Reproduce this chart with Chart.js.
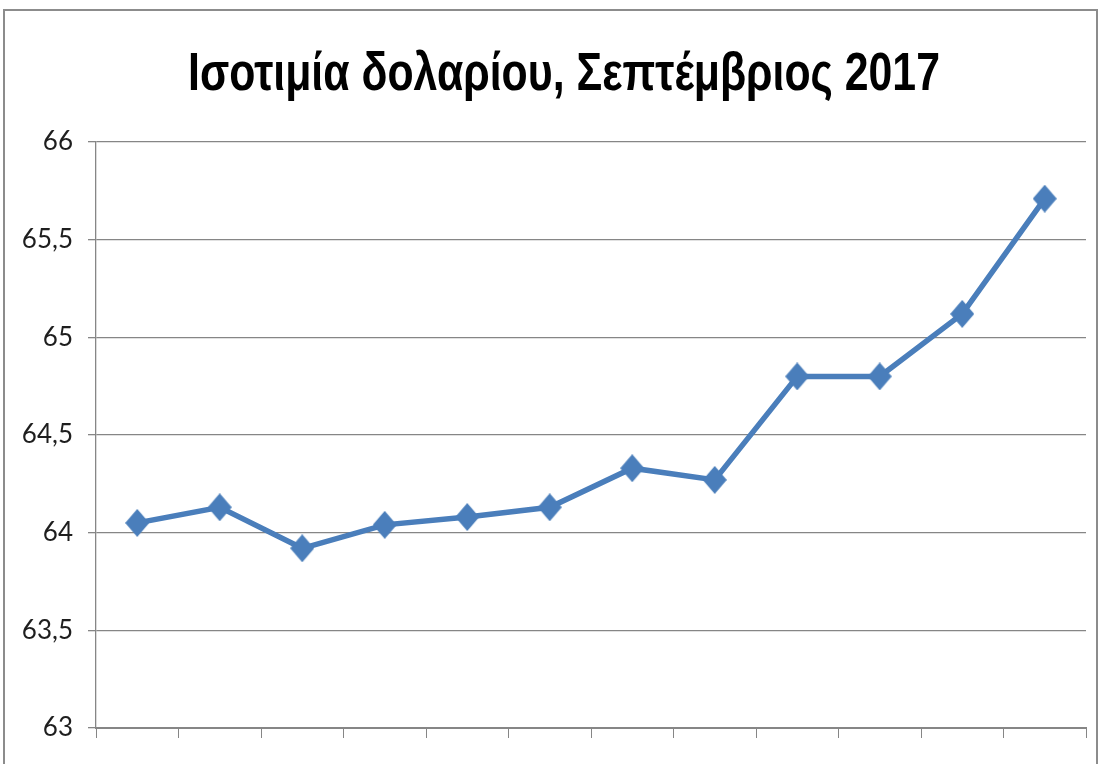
<!DOCTYPE html>
<html>
<head>
<meta charset="utf-8">
<script src="https://cdn.jsdelivr.net/npm/chart.js@4/dist/chart.umd.min.js"></script>
<style>
  html, body { margin: 0; padding: 0; background: #fff; overflow: hidden; }
  #wrap { position: absolute; left: 0; top: 0; width: 1104px; height: 764px; }
  #frame { position: absolute; left: 3px; top: 9px; width: 1095px; height: 800px; border: 2px solid #8c8c8c; box-sizing: border-box; pointer-events: none; }
</style>
</head>
<body>
<div id="wrap"><canvas id="c" width="1104" height="764"></canvas></div>
<div id="frame"></div>
<script>
const titleText = 'Ισοτιμία δολαρίου, Σεπτέμβριος 2017';
const categories = ['1', '2', '3', '4', '5', '6', '7', '8', '9', '10', '11', '12'];
const rateValues = [64.05, 64.13, 63.92, 64.04, 64.08, 64.13, 64.33, 64.27, 64.80, 64.80, 65.12, 65.71];
const yTickValues = [63, 63.5, 64, 64.5, 65, 65.5, 66];

const blue = '#4a7ebb';
const gridColor = '#868686';

// Diamond marker (slightly taller than wide, as in the reference)
function makeDiamond(w, h, color) {
  const cv = document.createElement('canvas');
  cv.width = w; cv.height = h;
  const g = cv.getContext('2d');
  g.fillStyle = color;
  g.beginPath();
  g.moveTo(w / 2, 0);
  g.lineTo(w, h / 2);
  g.lineTo(w / 2, h);
  g.lineTo(0, h / 2);
  g.closePath();
  g.fill();
  return cv;
}
const diamond = makeDiamond(24, 28, blue);

// Condensed title (reference uses a narrow face such as Calibri)
const condensedTitle = {
  id: 'condensedTitle',
  afterDraw(chart) {
    const ctx = chart.ctx;
    ctx.save();
    ctx.font = "bold 53px 'Liberation Sans', Arial, sans-serif";
    ctx.fillStyle = '#000';
    ctx.textBaseline = 'alphabetic';
    ctx.textAlign = 'center';
    const w = ctx.measureText(titleText).width;
    const sx = 752 / w;
    ctx.translate(564, 90);
    ctx.scale(sx, 1);
    ctx.fillText(titleText, 0, 0);
    ctx.restore();
  }
};

new Chart(document.getElementById('c'), {
  type: 'line',
  data: {
    labels: categories,
    datasets: [{
      data: rateValues,
      borderColor: blue,
      backgroundColor: blue,
      borderWidth: 5.5,
      pointStyle: diamond,
      pointRadius: 12,
      pointHoverRadius: 12,
      tension: 0,
      fill: false
    }]
  },
  plugins: [condensedTitle],
  options: {
    responsive: false,
    animation: false,
    devicePixelRatio: 1,
    layout: { padding: { left: 0, right: 18, top: 142, bottom: 0 } },
    plugins: {
      legend: { display: false },
      tooltip: { enabled: false },
      title: { display: false }
    },
    scales: {
      x: {
        type: 'category',
        offset: true,
        grid: {
          offset: true,
          drawOnChartArea: false,
          drawTicks: true,
          tickLength: 10,
          color: gridColor,
          lineWidth: 1
        },
        border: { display: true, color: gridColor, width: 2 },
        ticks: { display: true, callback: () => '', font: { size: 1 }, padding: 0 },
        afterFit: (s) => { s.height = 36; }
      },
      y: {
        min: 63,
        max: 66,
        afterBuildTicks: (s) => { s.ticks = yTickValues.map(v => ({ value: v })); },
        grid: {
          color: gridColor,
          lineWidth: 1.3,
          drawTicks: true,
          tickLength: 8
        },
        border: { display: true, color: gridColor, width: 1.3 },
        ticks: {
          color: '#1e1e1e',
          padding: 15,
          font: { family: "Lato, 'Liberation Sans', sans-serif", size: 26 },
          callback: (v) => String(v).replace('.', ',')
        },
        afterFit: (s) => { s.width = 96; }
      }
    }
  }
});
</script>
</body>
</html>
